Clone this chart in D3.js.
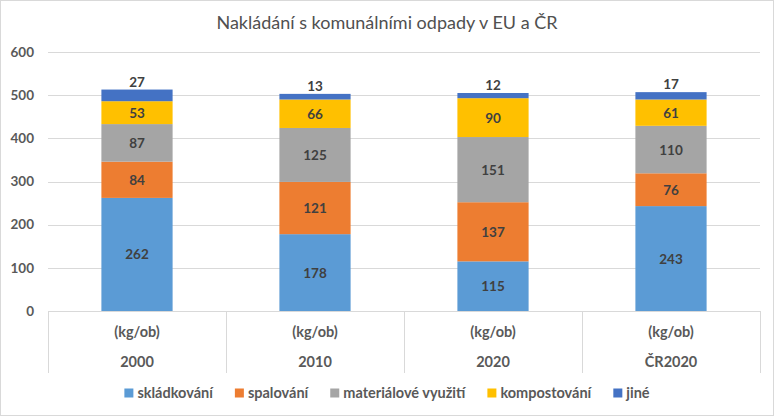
<!DOCTYPE html>
<html><head><meta charset="utf-8">
<script src="https://cdn.jsdelivr.net/npm/d3@7"></script>
<style>body{margin:0;background:#fff}svg{display:block}text{font-family:Lato,"Open Sans",sans-serif}</style>
</head><body><svg id="c" width="774" height="416"></svg>
<script>
const categories = ["2000","2010","2020","ČR2020"];
const subLabel = "(kg/ob)";
const seriesNames = ["skládkování","spalování","materiálové využití","kompostování","jiné"];
const skladkovani = [262,178,115,243];
const spalovani = [84,121,137,76];
const materialove = [87,125,151,110];
const kompostovani = [53,66,90,61];
const jine = [27,13,12,17];
const yTicks = [0,100,200,300,400,500,600];
const colors = ["#5B9BD5","#ED7D31","#A5A5A5","#FFC000","#4472C4"];
const title = "Nakládání s komunálními odpady v EU a ČR";

const seriesVals = [skladkovani,spalovani,materialove,kompostovani,jine];
const rows = categories.map((c,i)=>{const o={cat:c};seriesNames.forEach((s,j)=>o[s]=seriesVals[j][i]);return o;});
const stack = d3.stack().keys(seriesNames)(rows);

const svg = d3.select("#c");
svg.append("rect").attr("x",0.5).attr("y",0.5).attr("width",773).attr("height",415).attr("fill","#fff").attr("stroke","#d9d9d9");
const L=48,R=760,T=52,B=311;
const x = d3.scaleBand().domain(categories).range([L,R]).paddingInner(0).paddingOuter(0);
const y = d3.scaleLinear().domain([0,600]).range([B,T]);

svg.append("text").attr("x",387).attr("y",29).attr("text-anchor","middle").attr("font-size",18).attr("fill","#505050").text(title);

// gridlines
svg.append("g").selectAll("line").data(yTicks.filter(t=>t>0)).join("line")
 .attr("x1",L).attr("x2",R).attr("y1",d=>Math.round(y(d))+0.5).attr("y2",d=>Math.round(y(d))+0.5).attr("stroke","#d9d9d9");
// y axis labels
const ya = d3.axisLeft(y).tickValues(yTicks).tickSize(0).tickPadding(0);
const yg = svg.append("g").attr("transform",`translate(${L-14},0)`).call(ya);
yg.select(".domain").remove();
yg.selectAll("text").attr("font-size",13.5).attr("font-weight","bold").attr("fill","#595959").attr("font-family","Lato");

// bars
const bw = x.bandwidth()*0.4;
const gs = svg.append("g").selectAll("g").data(stack).join("g").attr("fill",(d,i)=>colors[i]);
gs.selectAll("rect").data(d=>d).join("rect")
 .attr("x",d=>x(d.data.cat)+(x.bandwidth()-bw)/2).attr("width",bw)
 .attr("y",d=>y(d[1])).attr("height",d=>y(d[0])-y(d[1]));
// labels
stack.forEach((s,i)=>{
  svg.append("g").selectAll("text").data(s).join("text")
   .attr("x",d=>x(d.data.cat)+x.bandwidth()/2)
   .attr("y",d=> i===4 ? y(d[1])-3 : (y(d[0])+y(d[1]))/2+5)
   .attr("text-anchor","middle").attr("font-size",13.5).attr("font-weight","bold")
   .attr("fill","#404040").text(d=>d[1]-d[0]);
});

// category axis
svg.append("line").attr("x1",L).attr("x2",R).attr("y1",B+0.5).attr("y2",B+0.5).attr("stroke","#d9d9d9");
const xa = d3.axisBottom(x).tickSize(0).tickPadding(0);
const xg = svg.append("g").attr("transform",`translate(0,${B})`).call(xa);
xg.select(".domain").remove();
xg.selectAll("text").remove();
svg.append("g").selectAll("line").data(d3.range(categories.length+1)).join("line")
 .attr("x1",i=>Math.round(i<categories.length?x(categories[i]):R)+0.5).attr("x2",i=>Math.round(i<categories.length?x(categories[i]):R)+0.5)
 .attr("y1",B).attr("y2",373).attr("stroke","#d9d9d9");
svg.append("g").selectAll("text").data(categories).join("text")
 .attr("x",d=>x(d)+x.bandwidth()/2).attr("y",337).attr("text-anchor","middle")
 .attr("font-size",14.5).attr("font-weight","bold").attr("fill","#595959").text(subLabel);
svg.append("g").selectAll("text").data(categories).join("text")
 .attr("x",d=>x(d)+x.bandwidth()/2).attr("y",367).attr("text-anchor","middle")
 .attr("font-size",14.5).attr("font-weight","bold").attr("fill","#595959").text(d=>d);

// legend
const lg = svg.append("g");
let lx = 0;
seriesNames.forEach((s,i)=>{
  const g = lg.append("g").attr("transform",`translate(${lx},0)`);
  g.append("rect").attr("x",0).attr("y",-9.5).attr("width",9).attr("height",9).attr("fill",colors[i]);
  const t = g.append("text").attr("x",13).attr("y",0).attr("font-size",14.5).attr("font-weight","bold").attr("fill","#595959").text(s);
  lx += 13 + t.node().getComputedTextLength() + 22;
});
const totalW = lx-22;
lg.attr("transform",`translate(${(774-totalW)/2},398)`);
</script></body></html>
